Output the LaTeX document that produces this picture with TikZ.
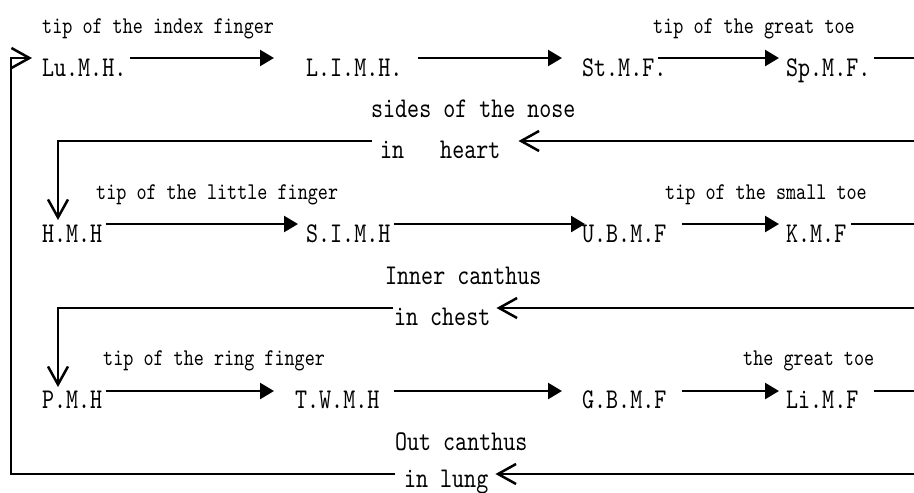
\documentclass[tikz,border=0pt]{standalone}
\usepackage{fontspec}
\newfontfamily\monoA[FakeStretch=0.8]{lmmono10-regular.otf}
\usetikzlibrary{arrows.meta}
\tikzset{
  nd/.style={anchor=base west, inner sep=0pt, font=\monoA\fontsize{28.6}{30}\selectfont},
  lbl/.style={anchor=base west, inner sep=0pt, font=\monoA\fontsize{24}{26}\selectfont},
  fa/.style={line width=2.5pt, -{Triangle[length=14pt,width=16pt]}},
  ob/.style={line width=2.5pt, -{Straight Barb[length=18pt,width=20pt]}},
  ln/.style={line width=2.5pt},
}
\begin{document}
\begin{tikzpicture}[x=1pt,y=-1pt]
\fill[white] (0,0) rectangle (914,493);
\useasboundingbox (0,0) rectangle (914,493);
% coordinates
\coordinate (y1) at (0,58);
\coordinate (y2) at (0,224);
\coordinate (y3) at (0,391);
\coordinate (e1) at (914,58);
\coordinate (e2) at (914,224);
\coordinate (e3) at (914,391);
\coordinate (r1) at (914,141);
\coordinate (r2) at (914,308);
\coordinate (r3) at (914,474);
\coordinate (k1) at (58,141);
\coordinate (k2) at (58,308);
\coordinate (k3) at (11,474);
\coordinate (k4) at (11,58);
% row 1
\node[lbl] (t1a) at (42,33) {tip of the index finger};
\node[lbl] (t1b) at (653,33) {tip of the great toe};
\node[nd] (lu) at (42,76) {Lu.M.H.};
\node[nd] (lim) at (306,76) {L.I.M.H.};
\node[nd] (stmf) at (582,76) {St.M.F.};
\node[nd] (spmf) at (786,76) {Sp.M.F.};
\node[nd] (m1) at (371,117) {sides of the nose};
\node[nd] (h1) at (380,158) {in\ \ \ heart};
% row 2
\node[lbl] (t2a) at (96,199) {tip of the little finger};
\node[lbl] (t2b) at (665,199) {tip of the small toe};
\node[nd] (hmh) at (42,242) {H.M.H};
\node[nd] (simh) at (306,242) {S.I.M.H};
\node[nd] (ubmf) at (582,242) {U.B.M.F};
\node[nd] (kmf) at (786,242) {K.M.F};
\node[nd] (m2) at (385,284) {Inner canthus};
\node[nd] (h2) at (394,325) {in chest};
% row 3
\node[lbl] (t3a) at (103,365) {tip of the ring finger};
\node[lbl] (t3b) at (743,365) {the great toe};
\node[nd] (pmh) at (42,408) {P.M.H};
\node[nd] (twmh) at (295,408) {T.W.M.H};
\node[nd] (gbmf) at (582,408) {G.B.M.F};
\node[nd] (limf) at (786,408) {Li.M.F};
\node[nd] (m3) at (395,450) {Out canthus};
\node[nd] (h3) at (404,487) {in lung};
% row 1 connectors
\draw[fa,shorten <=4pt,shorten >=32pt] (lu.east |- y1) -- (lim.west |- y1);
\draw[fa,shorten <=16pt,shorten >=20pt] (lim.east |- y1) -- (stmf.west |- y1);
\draw[fa,shorten <=-8pt,shorten >=7pt] (stmf.east |- y1) -- (spmf.west |- y1);
\draw[ln,shorten <=4pt] (spmf.east |- y1) -- (e1);
% row 2 connectors
\draw[fa,shorten <=4pt,shorten >=8pt] (hmh.east |- y2) -- (simh.west |- y2);
\draw[fa,shorten <=4pt,shorten >=-3pt] (simh.east |- y2) -- (ubmf.west |- y2);
\draw[fa,shorten <=16pt,shorten >=7pt] (ubmf.east |- y2) -- (kmf.west |- y2);
\draw[ln,shorten <=5pt] (kmf.east |- y2) -- (e2);
% row 3 connectors
\draw[fa,shorten <=4pt,shorten >=21pt] (pmh.east |- y3) -- (twmh.west |- y3);
\draw[fa,shorten <=15pt,shorten >=20pt] (twmh.east |- y3) -- (gbmf.west |- y3);
\draw[fa,shorten <=16pt,shorten >=7pt] (gbmf.east |- y3) -- (limf.west |- y3);
\draw[ln,shorten <=16pt] (limf.east |- y3) -- (e3);
% return connectors
\draw[ob,shorten >=18pt] (r1) -- (h1.east |- r1);
\draw[ob,shorten <=8pt,shorten >=22pt] (h1.west |- r1) -- (k1) -- (k1 |- hmh.base);
\draw[ob,shorten >=6pt] (r2) -- (h2.east |- r2);
\draw[ob,shorten <=1pt,shorten >=21pt] (h2.west |- r2) -- (k2) -- (k2 |- pmh.base);
\draw[ob,shorten >=7pt] (r3) -- (h3.east |- r3);
\draw[ob,shorten <=9pt,shorten >=10pt] (h3.west |- r3) -- (k3) -- (k4) -- (lu.west |- k4);
\end{tikzpicture}
\end{document}
